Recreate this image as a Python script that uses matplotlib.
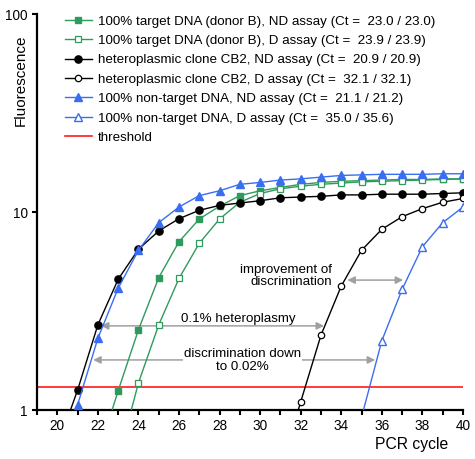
import numpy as np
import matplotlib
matplotlib.use("Agg")
import matplotlib.pyplot as plt
from matplotlib.ticker import FixedLocator, MultipleLocator, NullLocator

plt.rcParams['font.family'] = ['Liberation Sans', 'DejaVu Sans']

# ---- data ----
green_nd_cycles = list(range(22, 41))
green_nd_vals = [0.59, 1.25, 2.54, 4.66, 7.08, 9.22, 10.7, 12.1, 12.8, 13.3, 13.8,
                 14.1, 14.3, 14.4, 14.5, 14.6, 14.6, 14.7, 14.7]
green_d_cycles = list(range(23, 41))
green_d_vals = [0.56, 1.37, 2.69, 4.62, 6.95, 9.22, 11.2, 12.4, 13.1, 13.5, 13.8,
                14.0, 14.2, 14.3, 14.4, 14.5, 14.6, 14.7]
black_nd_cycles = list(range(20, 41))
black_nd_vals = [0.65, 1.26, 2.69, 4.57, 6.48, 8.02, 9.25, 10.2, 10.8, 11.1, 11.4,
                 11.8, 11.9, 12.0, 12.2, 12.2, 12.3, 12.3, 12.3, 12.4, 12.5]
black_d_cycles = list(range(31, 41))
black_d_vals = [0.5, 1.10, 2.39, 4.23, 6.41, 8.18, 9.47, 10.4, 11.2, 11.7]
blue_nd_cycles = list(range(20, 41))
blue_nd_vals = [0.5, 1.06, 2.30, 4.12, 6.4, 8.83, 10.6, 12.1, 12.8, 13.8, 14.1,
                14.5, 14.7, 15.0, 15.3, 15.4, 15.5, 15.5, 15.5, 15.6, 15.6]
blue_d_cycles = list(range(35, 41))
blue_d_vals = [0.92, 2.24, 4.07, 6.68, 8.83, 10.6]
threshold = 1.31

labels = [
    "100% target DNA (donor B), ND assay (Ct =  23.0 / 23.0)",
    "100% target DNA (donor B), D assay (Ct =  23.9 / 23.9)",
    "heteroplasmic clone CB2, ND assay (Ct =  20.9 / 20.9)",
    "heteroplasmic clone CB2, D assay (Ct =  32.1 / 32.1)",
    "100% non-target DNA, ND assay (Ct =  21.1 / 21.2)",
    "100% non-target DNA, D assay (Ct =  35.0 / 35.6)",
    "threshold",
]
x_ticks = [20, 22, 24, 26, 28, 30, 32, 34, 36, 38, 40]
y_ticks = [1, 10, 100]

GREEN = '#2f9a5e'
BLUE = '#3a6ef2'
GRAY = '#a0a0a0'

fig = plt.figure(figsize=(4.75, 4.59), dpi=100)
ax = fig.add_axes([37/475, 1 - 410/459, 426/475, 396/459])
ax.set_yscale('log')

ax.plot(green_nd_cycles, green_nd_vals, color=GREEN, lw=1.0, marker='s', ms=4.3,
        mfc=GREEN, mec=GREEN, label=labels[0], zorder=3)
ax.plot(green_d_cycles, green_d_vals, color=GREEN, lw=1.0, marker='s', ms=4.3,
        mfc='white', mec=GREEN, mew=0.9, label=labels[1], zorder=3)
ax.plot(black_nd_cycles, black_nd_vals, color='black', lw=1.0, marker='o', ms=5.2,
        mfc='black', mec='black', label=labels[2], zorder=3)
ax.plot(black_d_cycles, black_d_vals, color='black', lw=1.0, marker='o', ms=4.6,
        mfc='white', mec='black', mew=0.9, label=labels[3], zorder=3)
ax.plot(blue_nd_cycles, blue_nd_vals, color=BLUE, lw=1.0, marker='^', ms=6,
        mfc=BLUE, mec=BLUE, label=labels[4], zorder=3)
ax.plot(blue_d_cycles, blue_d_vals, color=BLUE, lw=1.0, marker='^', ms=6,
        mfc='white', mec=BLUE, mew=1.0, label=labels[5], zorder=3)
ax.axhline(threshold, color='#ff1a1a', lw=1.2, label=labels[6], zorder=2)

ax.set_xlim(19, 40)
ax.set_ylim(1, 100)

# arrows
arrow_kw = dict(arrowstyle='<|-|>', color=GRAY, lw=1.1, mutation_scale=11,
                shrinkA=0, shrinkB=0)
ax.annotate('', xy=(37.05, 4.53), xytext=(34.3, 4.53), arrowprops=arrow_kw, zorder=1)
ax.annotate('', xy=(33.15, 2.66), xytext=(22.15, 2.66), arrowprops=arrow_kw, zorder=1)
ax.annotate('', xy=(35.67, 1.79), xytext=(21.77, 1.79), arrowprops=arrow_kw, zorder=1)

ax.text(33.55, 4.75, "improvement of\ndiscrimination", ha='right', va='center',
        fontsize=9.6, multialignment='right', linespacing=1.1, zorder=4)
ax.text(28.92, 2.87, "0.1% heteroplasmy", ha='center', va='center', fontsize=9.6,
        zorder=4)
ax.text(29.14, 1.77, "discrimination down\nto 0.02%", ha='center', va='center',
        fontsize=9.6, linespacing=1.1, zorder=4,
        bbox=dict(facecolor='white', edgecolor='none', pad=0.5))

# axes styling
for s in ['top', 'right']:
    ax.spines[s].set_visible(False)
for s in ['left', 'bottom']:
    ax.spines[s].set_linewidth(1.6)
ax.xaxis.set_major_locator(FixedLocator(x_ticks))
ax.xaxis.set_minor_locator(MultipleLocator(1))
ax.yaxis.set_major_locator(FixedLocator(y_ticks))
ax.yaxis.set_minor_locator(NullLocator())
ax.set_yticklabels([str(v) for v in y_ticks])
ax.tick_params(axis='both', which='both', direction='out', length=3.5, width=1.5,
               labelsize=9.8, pad=3)

ax.set_xlabel('PCR cycle', fontsize=11.3, ha='right')
ax.xaxis.set_label_coords(0.965, -0.068)
ax.set_ylabel('Fluorescence', fontsize=11.0, va='bottom')
ax.yaxis.set_label_coords(-0.022, 0.832)

leg = ax.legend(loc='upper left', bbox_to_anchor=(0.066, 0.997), frameon=False,
                fontsize=9.6, handlelength=2.0, handletextpad=0.45,
                labelspacing=0.53, borderpad=0, borderaxespad=0)

fig.savefig('out.png', dpi=100)
